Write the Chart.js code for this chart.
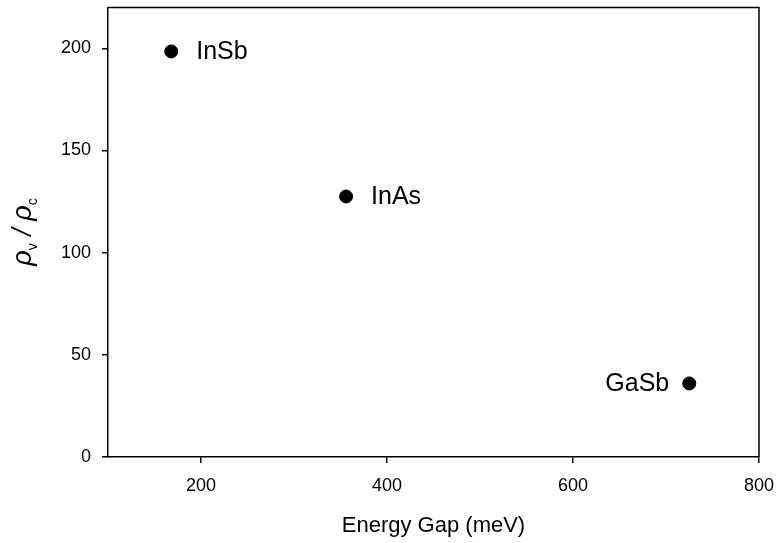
<!DOCTYPE html>
<html>
<head>
<meta charset="utf-8">
<script src="https://cdn.jsdelivr.net/npm/chart.js@4/dist/chart.umd.min.js"></script>
<style>
  html, body { margin: 0; padding: 0; background: #fff; }
  #wrap { width: 776px; height: 543px; }
</style>
</head>
<body>
<div id="wrap"><canvas id="chart" width="776" height="543"></canvas></div>
<script>
const materials = ['InSb', 'InAs', 'GaSb'];
const energyGap = [168, 356, 725];
const massRatio = [198.5, 127.5, 36];
const labelSide = ['right', 'right', 'left'];
const xTicks = [200, 400, 600, 800];
const yTicks = [0, 50, 100, 150, 200];

const FONT = "'Liberation Sans', Arial, Helvetica, sans-serif";

// frame, point labels and the rho_v / rho_c title
const extras = {
  id: 'extras',
  afterDraw(chart) {
    const { ctx, chartArea: a } = chart;
    ctx.save();
    ctx.strokeStyle = '#000';
    ctx.lineWidth = 1.5;
    ctx.beginPath();
    ctx.moveTo(a.left, a.top);
    ctx.lineTo(a.right, a.top);
    ctx.lineTo(a.right, a.bottom);
    ctx.stroke();

    const meta = chart.getDatasetMeta(0);
    ctx.fillStyle = '#000';
    ctx.font = '25px ' + FONT;
    ctx.textBaseline = 'middle';
    meta.data.forEach((pt, i) => {
      if (labelSide[i] === 'right') {
        ctx.textAlign = 'left';
        ctx.fillText(materials[i], pt.x + 25, pt.y + 1);
      } else {
        ctx.textAlign = 'right';
        ctx.fillText(materials[i], pt.x - 20, pt.y + 1);
      }
    });

    // y title
    ctx.translate(23, 232);
    ctx.rotate(-Math.PI / 2);
    ctx.textBaseline = 'alphabetic';
    ctx.textAlign = 'left';
    const big = 'italic 27px ' + FONT;
    const sub = '14px ' + FONT;
    const parts = [
      [big, 'ρ', 0], [sub, 'v', 6], [big, ' / ', 0], [big, 'ρ', 0], [sub, 'c', 6]
    ];
    let w = 0;
    parts.forEach(p => { ctx.font = p[0]; w += ctx.measureText(p[1]).width; });
    let x = -w / 2;
    parts.forEach(p => {
      ctx.font = p[0];
      ctx.fillText(p[1], x, 8 + p[2]);
      x += ctx.measureText(p[1]).width;
    });
    ctx.restore();
  }
};

new Chart(document.getElementById('chart'), {
  type: 'scatter',
  data: {
    datasets: [{
      data: energyGap.map((g, i) => ({ x: g, y: massRatio[i] })),
      backgroundColor: '#000',
      borderColor: '#000',
      pointRadius: 6.5,
      pointHoverRadius: 6.5
    }]
  },
  options: {
    responsive: false,
    animation: false,
    events: [],
    layout: { padding: { left: 0, top: 6, right: 17, bottom: 0 } },
    plugins: { legend: { display: false }, tooltip: { enabled: false } },
    scales: {
      x: {
        type: 'linear',
        min: 100,
        max: 800,
        afterBuildTicks: s => { s.ticks = xTicks.map(v => ({ value: v })); },
        afterFit: s => { s.height = 86; s.paddingLeft = 0; s.paddingRight = 0; },
        grid: { drawOnChartArea: false, drawTicks: true, tickLength: 6, color: '#000', lineWidth: 1.5 },
        border: { display: true, color: '#000', width: 1.5 },
        ticks: { color: '#000', font: { family: FONT, size: 18 }, padding: 12, maxRotation: 0 },
        title: { display: true, text: 'Energy Gap (meV)', color: '#000', font: { family: FONT, size: 22 }, padding: { top: 15 } }
      },
      y: {
        type: 'linear',
        min: 0,
        max: 220,
        afterBuildTicks: s => { s.ticks = yTicks.map(v => ({ value: v })); },
        afterFit: s => { s.width = 108; s.paddingTop = 0; s.paddingBottom = 0; },
        grid: { drawOnChartArea: false, drawTicks: true, tickLength: 6, color: '#000', lineWidth: 1.5 },
        border: { display: true, color: '#000', width: 1.5 },
        ticks: { color: '#000', font: { family: FONT, size: 18 }, padding: 11 }
      }
    }
  },
  plugins: [extras]
});
</script>
</body>
</html>
